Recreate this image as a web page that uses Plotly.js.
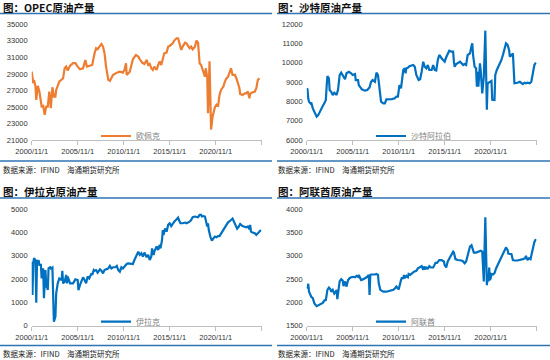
<!DOCTYPE html>
<html><head><meta charset="utf-8">
<script src="https://cdn.plot.ly/plotly-3.0.1.min.js"></script>
<style>html,body{margin:0;padding:0;background:#fff}#c{width:550px;height:360px}</style>
</head><body><div id="c"></div>
<script>
// ---- data (thousand barrels/day) ----
const opecDates = ['2000-11','2001-01','2001-02','2001-04','2001-05','2001-07','2001-09','2001-12','2002-02','2002-04','2002-06','2002-08','2002-10','2002-12','2003-02','2003-04','2003-06','2003-07','2003-11','2004-02','2004-04','2004-06','2004-08','2004-10','2005-01','2005-05','2005-08','2005-11','2006-02','2006-06','2006-09','2006-11','2007-03','2007-06','2007-09','2007-11','2008-01','2008-04','2008-06','2008-08','2008-10','2008-12','2009-03','2009-05','2009-09','2010-02','2010-06','2010-10','2010-12','2011-02','2011-03','2011-07','2011-09','2011-11','2012-03','2012-06','2012-08','2012-11','2013-02','2013-05','2013-07','2013-09','2013-11','2014-01','2014-03','2014-06','2014-08','2014-10','2014-12','2015-02','2015-04','2015-07','2015-09','2015-11','2016-01','2016-03','2016-05','2016-08','2016-10','2016-12','2017-02','2017-04','2017-07','2017-09','2017-11','2018-01','2018-03','2018-05','2018-08','2018-10','2018-12','2019-01','2019-02','2019-04','2019-06','2019-09','2019-10','2019-12','2020-01','2020-03','2020-05','2020-07','2020-10','2020-12','2021-02','2021-04','2021-06','2021-09','2021-11','2022-01','2022-03','2022-05','2022-07','2022-09','2022-12','2023-02','2023-04','2023-06','2023-07','2023-10','2024-01','2024-03','2024-05','2024-07','2024-08','2024-10','2025-02','2025-04','2025-06','2025-08','2025-10'];
const opecValues = [29270,27870,28270,27460,25850,27550,26860,25050,25130,24040,25050,25050,26860,24850,27380,26250,26250,27060,28070,28270,28470,29680,29880,29400,30000,30290,30290,29880,29560,29680,30690,29880,29960,30080,31490,32100,31980,32300,32620,32300,31500,29880,28270,28150,28870,29150,29270,29150,29480,30290,28870,29270,30080,30770,31290,31090,30770,30370,30200,30690,30080,30200,29680,29480,29880,29480,30080,30490,30080,30690,31490,31570,32300,32380,32500,32700,33030,33310,33310,32700,31900,32300,32780,32700,32300,32100,32300,31980,32300,33030,32780,31490,30290,30080,29480,28670,29680,28600,24240,30530,22270,23840,24970,25250,25050,26450,27060,27460,28070,28470,28600,29270,29680,28870,28870,28470,27870,27260,26580,26450,26650,26650,26860,26050,26580,26730,26860,27260,28270,28470];

const saudiDates = ['2000-11','2000-12','2001-01','2001-02','2001-04','2001-05','2001-07','2001-09','2001-12','2002-02','2002-04','2002-06','2002-08','2002-10','2002-12','2003-01','2003-02','2003-04','2003-05','2003-07','2003-09','2003-11','2004-02','2004-04','2004-06','2004-08','2004-10','2005-01','2005-03','2005-06','2005-09','2005-11','2006-02','2006-03','2006-06','2006-07','2006-11','2007-03','2007-06','2007-09','2007-11','2008-01','2008-04','2008-06','2008-08','2008-10','2008-12','2009-03','2009-05','2009-07','2009-09','2010-02','2010-06','2010-08','2010-10','2010-12','2011-02','2011-03','2011-05','2011-07','2011-08','2011-09','2011-11','2012-01','2012-04','2012-06','2012-08','2012-10','2013-01','2013-03','2013-05','2013-07','2013-09','2013-11','2014-01','2014-03','2014-06','2014-08','2014-10','2014-12','2015-02','2015-04','2015-07','2015-09','2015-11','2016-01','2016-03','2016-05','2016-08','2016-10','2016-11','2016-12','2017-02','2017-04','2017-07','2017-09','2017-11','2018-01','2018-03','2018-05','2018-08','2018-10','2018-11','2018-12','2019-02','2019-04','2019-05','2019-06','2019-07','2019-09','2019-10','2019-12','2020-02','2020-04','2020-06','2020-07','2020-10','2020-12','2021-01','2021-04','2021-05','2021-07','2021-11','2022-01','2022-03','2022-05','2022-07','2022-09','2022-11','2022-12','2023-02','2023-04','2023-06','2023-07','2023-10','2024-01','2024-03','2024-05','2024-07','2024-09','2024-11','2025-02','2025-04','2025-06','2025-08','2025-10'];
const saudiValues = [8680,8630,8160,7990,7900,7940,7640,7470,7210,7290,7470,7640,7760,7900,8070,8760,9320,9200,8590,8500,8330,8450,8330,8630,9370,9490,9370,9150,9460,9540,9460,9370,9420,9110,9110,8850,8630,8560,8590,8730,9020,9110,9020,9490,9370,8760,7990,7900,7900,8110,8110,8120,8160,8250,8250,8850,8680,8940,9630,9720,9460,9720,9750,9830,9890,9890,9800,9370,9110,9150,9540,10060,9800,9720,9890,9630,9630,9890,9630,9600,10150,10410,10240,10150,10060,10290,10460,10630,10580,10580,10060,9800,9940,9980,10060,9980,9890,9940,9890,10410,10490,10880,11010,10410,9800,9720,8760,9540,8760,9980,9600,8420,9280,11670,7570,8940,9020,9060,8090,8070,9370,9630,9980,10150,10410,10670,11010,10930,10670,10320,10410,10490,8940,8940,8970,9020,8940,8900,8970,8940,8970,8940,9020,9460,9890,10010];

const iraqDates = ['2000-11','2000-12','2001-01','2001-02','2001-04','2001-05','2001-06','2001-07','2001-08','2001-09','2001-11','2001-12','2002-01','2002-02','2002-03','2002-05','2002-06','2002-07','2002-08','2002-09','2002-11','2002-12','2003-02','2003-04','2003-06','2003-07','2003-09','2003-11','2004-02','2004-03','2004-04','2004-06','2004-08','2004-09','2004-10','2005-01','2005-05','2005-08','2005-11','2005-12','2006-02','2006-04','2006-06','2006-08','2006-10','2006-12','2007-02','2007-05','2007-06','2007-08','2007-09','2007-11','2008-01','2008-04','2008-06','2008-08','2008-10','2008-12','2009-03','2009-05','2009-07','2009-09','2009-12','2010-02','2010-04','2010-06','2010-08','2010-10','2010-12','2011-03','2011-05','2011-07','2011-09','2011-11','2012-01','2012-04','2012-06','2012-08','2012-10','2012-12','2013-02','2013-05','2013-07','2013-09','2013-11','2013-12','2014-02','2014-03','2014-06','2014-08','2014-10','2014-11','2015-01','2015-02','2015-03','2015-05','2015-07','2015-09','2015-11','2016-01','2016-03','2016-05','2016-08','2016-10','2016-11','2017-01','2017-04','2017-07','2017-09','2017-11','2018-01','2018-03','2018-05','2018-08','2018-10','2018-12','2019-02','2019-04','2019-05','2019-07','2019-09','2019-10','2019-12','2020-01','2020-02','2020-04','2020-05','2020-06','2020-08','2020-10','2020-12','2021-02','2021-04','2021-06','2021-09','2021-11','2022-01','2022-03','2022-05','2022-07','2022-09','2022-11','2023-01','2023-03','2023-05','2023-07','2023-10','2024-01','2024-03','2024-05','2024-07','2024-08','2024-09','2024-11','2025-02','2025-04','2025-06','2025-08','2025-10'];
const iraqValues = [2750,1320,2680,2900,2820,990,2820,2680,2820,2610,2610,2030,2390,2460,1180,2390,1680,1680,1530,2460,2510,2460,2500,170,390,1390,1820,2030,1960,2360,1820,1890,2180,1820,2110,1820,1820,1990,1960,1530,1750,1960,2080,1960,1820,2110,2030,2250,2180,2390,2360,2390,2280,2420,2360,2250,2390,2420,2460,2570,2460,2510,2510,2570,2390,2320,2510,2460,2540,2650,2680,2680,2680,2650,2820,3040,3180,3040,3110,2970,3140,2940,3040,2820,2970,3320,3040,3180,3400,3250,3470,3320,3680,4110,3900,4180,4040,4330,4400,4280,4400,4470,4570,4640,4540,4400,4400,4430,4400,4430,4470,4540,4660,4690,4690,4660,4760,4760,4690,4710,4690,4540,4260,4400,4110,3830,3680,3650,3750,3830,3800,3850,3850,3970,4140,4230,4330,4430,4470,4540,4600,4450,4300,4170,4250,4370,4280,4230,4230,4260,4140,4330,4040,4000,3970,3900,3970,4000,4110];

const uaeDates = ['2000-11','2000-12','2001-01','2001-02','2001-04','2001-05','2001-07','2001-09','2001-12','2002-02','2002-04','2002-06','2002-08','2002-10','2002-12','2003-02','2003-04','2003-06','2003-07','2003-09','2003-11','2004-01','2004-02','2004-03','2004-05','2004-06','2004-08','2004-10','2004-11','2005-01','2005-03','2005-05','2005-07','2005-09','2005-12','2006-02','2006-04','2006-06','2006-07','2006-10','2007-01','2007-03','2007-06','2007-08','2007-09','2007-10','2007-11','2008-04','2008-06','2008-08','2008-09','2008-11','2009-03','2009-07','2009-12','2010-04','2010-06','2010-08','2010-10','2010-11','2011-02','2011-03','2011-05','2011-06','2011-07','2011-09','2011-11','2011-12','2012-02','2012-05','2012-07','2012-10','2012-12','2013-02','2013-05','2013-07','2013-08','2013-10','2013-11','2014-01','2014-03','2014-05','2014-08','2014-09','2014-11','2015-01','2015-02','2015-04','2015-07','2015-09','2015-10','2015-11','2016-01','2016-03','2016-05','2016-08','2016-10','2016-11','2017-01','2017-04','2017-07','2017-09','2017-11','2018-01','2018-03','2018-05','2018-08','2018-10','2018-12','2019-01','2019-04','2019-07','2019-10','2019-12','2020-01','2020-02','2020-04','2020-05','2020-06','2020-07','2020-08','2020-09','2020-10','2020-11','2020-12','2021-02','2021-04','2021-06','2021-09','2021-11','2022-01','2022-03','2022-05','2022-07','2022-09','2022-10','2022-12','2023-02','2023-04','2023-06','2023-10','2024-01','2024-05','2024-08','2024-09','2024-11','2025-01','2025-03','2025-04','2025-06','2025-08','2025-10'];
const uaeValues = [2340,2300,2400,2230,2160,2120,2090,1980,1920,1940,1960,1980,1990,2040,2050,2270,2320,2280,2230,2270,2190,2230,2270,2070,2340,2450,2500,2470,2350,2450,2340,2480,2520,2540,2550,2540,2570,2550,2590,2480,2500,2520,2550,2590,2160,2590,2600,2600,2610,2590,2410,2270,2230,2230,2250,2270,2300,2340,2300,2280,2480,2520,2520,2590,2520,2570,2540,2610,2590,2640,2660,2680,2730,2750,2780,2700,2770,2710,2750,2730,2780,2750,2750,2780,2850,2850,2880,2910,2910,2900,2880,2800,2750,2880,2950,3040,3090,3070,2930,2910,2910,2900,2880,2840,2880,3020,3200,3230,3090,3070,3070,3090,3110,3090,2480,2450,3830,2480,2370,2520,2450,2750,2480,2520,2610,2600,2630,2730,2840,2910,2980,3050,3130,3180,3130,3050,3040,3040,2910,2900,2900,2910,2930,2950,3000,2910,2950,2930,3020,3130,3300,3360];

const panelTitles = ['图：OPEC原油产量','图：沙特原油产量','图：伊拉克原油产量','图：阿联酋原油产量'];
const seriesNames = ['欧佩克','沙特阿拉伯','伊拉克','阿联酋'];
const sourceText = '数据来源：IFIND　海通期货研究所';
const xTickVals = ['2000-11-01','2005-11-01','2010-11-01','2015-11-01','2020-11-01','2025-11-01'];
const xTickText = ['2000/11/1','2005/11/1','2010/11/1','2015/11/1','2020/11/1',''];
const yRanges = [[21000,35000],[6000,12000],[0,5000],[1500,4000]];
const yDtick = [2000,1000,1000,500];

// ---- rendering ----
const W = 550, H = 360;
const FONT = 'Liberation Sans, Arial, Noto Sans CJK SC, sans-serif';
const CJK = 'Noto Sans CJK SC, Liberation Sans, sans-serif';
const fx = p => p / W, fy = p => 1 - p / H;
const ORANGE = '#ED7D31', BLUE = '#0070C0', RULE = '#2F75B5';

const panels = [
  {ox: 0, oy: 0},
  {ox: 275, oy: 0},
  {ox: 0, oy: 184.5},
  {ox: 275, oy: 184.5}
];
const datesArr = [opecDates, saudiDates, iraqDates, uaeDates];
const valsArr = [opecValues, saudiValues, iraqValues, uaeValues];
const colors = [ORANGE, BLUE, BLUE, BLUE];

const traces = [], layout = {
  width: W, height: H, margin: {l: 0, r: 0, t: 0, b: 0},
  paper_bgcolor: '#fff', plot_bgcolor: '#fff', showlegend: true,
  font: {family: FONT, size: 8, color: '#333'},
  shapes: [], annotations: []
};

panels.forEach((p, i) => {
  const n = i + 1, sfx = n === 1 ? '' : String(n);
  const lgName = n === 1 ? 'legend' : 'legend' + n;
  const x0 = p.ox + 31.7, x1 = p.ox + 261.7;
  const yTop = (i < 2 ? 24.3 : 209.3 - 184.5 + p.oy);
  const yBot = (i < 2 ? 140 : 325.7 - 184.5 + p.oy);
  traces.push({
    type: 'scatter', mode: 'lines', name: seriesNames[i], showlegend: true,
    x: datesArr[i], y: valsArr[i],
    xaxis: 'x' + sfx, yaxis: 'y' + sfx, legend: lgName,
    line: {color: colors[i], width: 2.2},
    hoverinfo: 'skip'
  });
  layout['xaxis' + sfx] = {
    domain: [fx(x0), fx(x1)], anchor: 'y' + sfx, type: 'date',
    range: ['2000-11-01', '2025-11-01'],
    tickmode: 'array', tickvals: xTickVals, ticktext: xTickText,
    ticks: 'outside', ticklen: 4, tickcolor: '#BFBFBF', tickwidth: 1,
    showline: true, linecolor: '#BFBFBF', linewidth: 1,
    showgrid: false, zeroline: false,
    tickfont: {family: FONT, size: 7.5, color: '#333'}, fixedrange: true
  };
  layout['yaxis' + sfx] = {
    domain: [fy(yBot), fy(yTop)], anchor: 'x' + sfx,
    range: yRanges[i], dtick: yDtick[i], tick0: yRanges[i][0],
    tickformat: 'd',
    showline: false, showgrid: false, zeroline: false, ticks: '',
    ticklabelstandoff: 3,
    tickfont: {family: FONT, size: 7.5, color: '#333'}, fixedrange: true
  };
  layout[lgName] = {
    x: fx(p.ox + 96), y: fy(yBot - 4), xanchor: 'left', yanchor: 'middle',
    orientation: 'h', bgcolor: 'rgba(0,0,0,0)', borderwidth: 0,
    font: {family: CJK, size: 8, color: '#7F7F7F'},
    itemwidth: 30, tracegroupgap: 0
  };
  layout.annotations.push({
    xref: 'paper', yref: 'paper', x: fx(p.ox + 1), y: fy(p.oy + 7),
    xanchor: 'left', yanchor: 'middle', showarrow: false,
    text: '<b>' + panelTitles[i] + '</b>',
    font: {family: CJK, size: 10.5, color: '#111'}
  });
  layout.annotations.push({
    xref: 'paper', yref: 'paper', x: fx(p.ox + 1), y: fy(p.oy + 169),
    xanchor: 'left', yanchor: 'middle', showarrow: false,
    text: sourceText,
    font: {family: CJK, size: 7.5, color: '#222'}
  });
  const rx0 = p.ox === 0 ? 0 : 277, rx1 = p.ox === 0 ? 272 : 550;
  layout.shapes.push({type: 'line', xref: 'paper', yref: 'paper',
    x0: fx(rx0), x1: fx(rx1), y0: fy(p.oy + 13.5), y1: fy(p.oy + 13.5),
    line: {color: RULE, width: 1.5}});
  layout.shapes.push({type: 'line', xref: 'paper', yref: 'paper',
    x0: fx(rx0), x1: fx(rx1), y0: fy(p.oy + 161), y1: fy(p.oy + 161),
    line: {color: RULE, width: 1.5}});
});

Plotly.newPlot('c', traces, layout, {staticPlot: true, displayModeBar: false});
</script>
</body></html>
